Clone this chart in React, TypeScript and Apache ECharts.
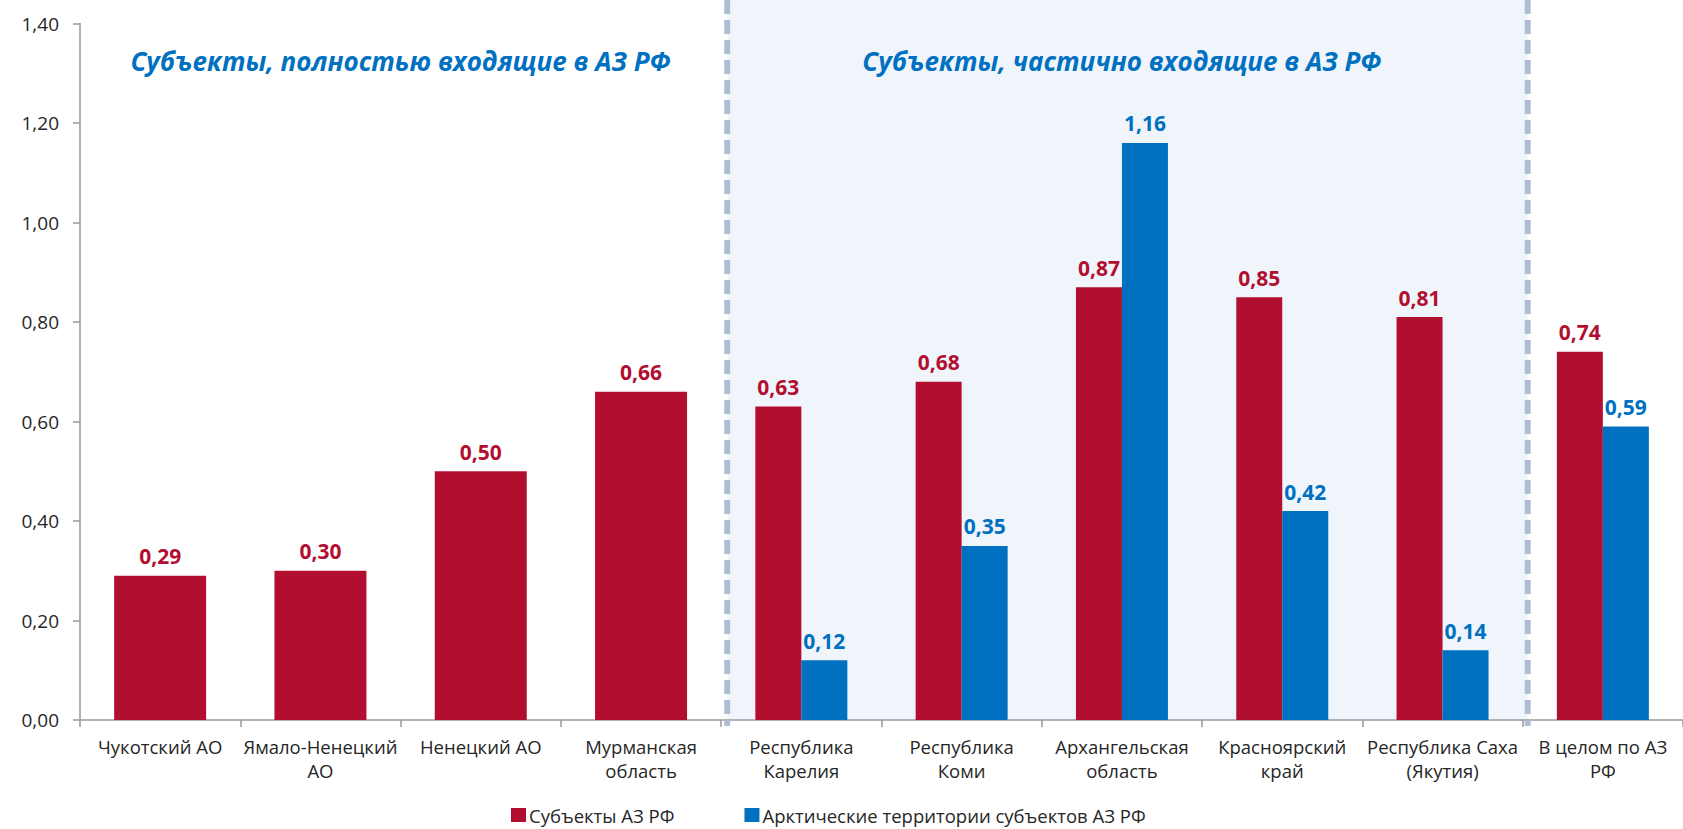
import React, { useEffect, useRef } from "react";
import * as echarts from "echarts";

const categories = [
  "Чукотский АО",
  "Ямало-Ненецкий\nАО",
  "Ненецкий АО",
  "Мурманская\nобласть",
  "Республика\nКарелия",
  "Республика\nКоми",
  "Архангельская\nобласть",
  "Красноярский\nкрай",
  "Республика Саха\n(Якутия)",
  "В целом по АЗ\nРФ",
];
// Subjects fully within the Arctic zone (first four categories)
const fullSubjectValues = [0.29, 0.3, 0.5, 0.66];
// Subjects partially within the Arctic zone + total (last six categories)
const partialSubjectValues = [0.63, 0.68, 0.87, 0.85, 0.81, 0.74];
const arcticTerritoryValues = [0.12, 0.35, 1.16, 0.42, 0.14, 0.59];
const yTicks = [0, 0.2, 0.4, 0.6, 0.8, 1.0, 1.2, 1.4];

const seriesNames = ["Субъекты АЗ РФ", "Арктические территории субъектов АЗ РФ"];
const groupTitles = [
  "Субъекты, полностью входящие в АЗ РФ",
  "Субъекты, частично входящие в АЗ РФ",
];

const RED = "#B20F30";
const BLUE = "#0070C0";
const FONT = "'Open Sans', 'Noto Sans', sans-serif";

const fmt = (v: number) => v.toFixed(2).replace(".", ",");

export default function App() {
  const ref = useRef<HTMLDivElement>(null);
  useEffect(() => {
    if (!ref.current) return;
    const chart = echarts.init(ref.current, null, { renderer: "svg" });
    const nFull = fullSubjectValues.length;
    const singleData = categories.map((_, i) => (i < nFull ? fullSubjectValues[i] : null));
    const redData = categories.map((_, i) => (i >= nFull ? partialSubjectValues[i - nFull] : null));
    const blueData = categories.map((_, i) => (i >= nFull ? arcticTerritoryValues[i - nFull] : null));

    const labelCommon = {
      show: true,
      position: "top",
      distance: 9,
      fontFamily: FONT,
      fontSize: 21,
      fontWeight: "bold",
      formatter: (p: any) => fmt(p.value),
    };

    chart.setOption({
      animation: false,
      backgroundColor: "#ffffff",
      grid: { left: 80, right: 0, top: 23.5, bottom: 109, containLabel: false },
      legend: {
        left: 511,
        top: 805,
        padding: 0,
        itemWidth: 15,
        itemHeight: 14,
        itemGap: 70,
        icon: "rect",
        data: seriesNames,
        textStyle: {
          fontFamily: FONT,
          fontSize: 18.5,
          lineHeight: 20,
          color: "#262626",
          padding: [0, 0, 0, -2],
        },
      },
      xAxis: [
        {
          type: "category",
          data: categories,
          axisLine: { lineStyle: { color: "#9a9a9a", width: 1.5 } },
          axisTick: { show: true, length: 7, lineStyle: { color: "#9a9a9a", width: 1.5 } },
          axisLabel: {
            interval: 0,
            margin: 14,
            fontFamily: FONT,
            fontSize: 18.5,
            lineHeight: 24,
            color: "#262626",
          },
        },
        {
          type: "category",
          data: categories,
          show: false,
        },
      ],
      yAxis: {
        type: "value",
        min: 0,
        max: 1.4,
        interval: 0.2,
        splitLine: { show: false },
        axisLine: { show: true, lineStyle: { color: "#9a9a9a", width: 1.5 } },
        axisTick: { show: true, length: 7, lineStyle: { color: "#9a9a9a", width: 1.5 } },
        axisLabel: {
          margin: 21,
          fontFamily: FONT,
          fontSize: 19,
          color: "#262626",
          customValues: yTicks,
          formatter: (v: number) => fmt(v),
        },
      },
      series: [
        {
          name: seriesNames[0],
          type: "bar",
          xAxisIndex: 1,
          data: singleData,
          barWidth: 92,
          itemStyle: { color: RED },
          label: { ...labelCommon, color: RED },
          z: 3,
        },
        {
          name: seriesNames[0],
          type: "bar",
          xAxisIndex: 0,
          data: redData,
          barWidth: 46,
          barGap: "0%",
          itemStyle: { color: RED },
          label: { ...labelCommon, color: RED },
          z: 3,
        },
        {
          name: seriesNames[1],
          type: "bar",
          xAxisIndex: 0,
          data: blueData,
          barWidth: 46,
          barGap: "0%",
          itemStyle: { color: BLUE },
          label: { ...labelCommon, color: BLUE },
          z: 3,
        },
      ],
    });

    // Compute category boundaries through the axis scale
    const cx = (i: number) => chart.convertToPixel({ xAxisIndex: 0 }, i) as number;
    const step = cx(1) - cx(0);
    const boundary = (i: number) => cx(i) - step / 2;
    const x1 = boundary(nFull) + 6;
    const x2 = boundary(categories.length - 1) + 5;
    const yBase = chart.convertToPixel({ yAxisIndex: 0 }, 0) as number;
    const leftCenter = (boundary(0) + boundary(nFull)) / 2;
    const rightCenter = (boundary(nFull) + boundary(categories.length - 1)) / 2;

    chart.setOption({
      graphic: [
        {
          type: "rect",
          z: -10,
          silent: true,
          shape: { x: x1, y: 0, width: x2 - x1, height: yBase },
          style: { fill: "#F0F5FB" },
        },
        {
          type: "line",
          z: 1,
          silent: true,
          shape: { x1: x1, y1: 0, x2: x1, y2: yBase + 6 },
          style: { stroke: "#AFBDD3", lineWidth: 6, lineDash: [14, 6] },
        },
        {
          type: "line",
          z: 1,
          silent: true,
          shape: { x1: x2, y1: 0, x2: x2, y2: yBase + 6 },
          style: { stroke: "#AFBDD3", lineWidth: 6, lineDash: [14, 6] },
        },
        {
          type: "text",
          z: 5,
          x: leftCenter,
          y: 61,
          style: {
            text: groupTitles[0],
            fill: BLUE,
            font: `italic bold 26px ${FONT}`,
            align: "center",
            verticalAlign: "middle",
          },
        },
        {
          type: "text",
          z: 5,
          x: rightCenter,
          y: 61,
          style: {
            text: groupTitles[1],
            fill: BLUE,
            font: `italic bold 26px ${FONT}`,
            align: "center",
            verticalAlign: "middle",
          },
        },
      ],
    });

    return () => chart.dispose();
  }, []);
  return (
    <div
      ref={ref}
      style={{ position: "fixed", left: 0, top: 0, width: 1683, height: 829, background: "#fff" }}
    />
  );
}
